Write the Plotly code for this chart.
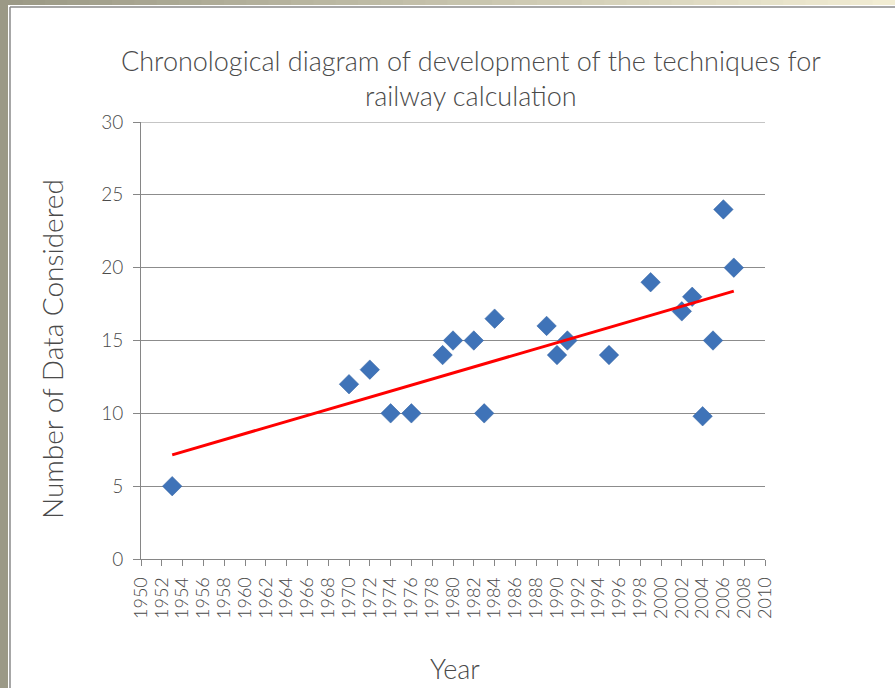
import numpy as np
import plotly.graph_objects as go

# Publication years and number of data considered by each technique
years = [1953, 1970, 1972, 1974, 1976, 1979, 1980, 1982, 1983, 1984,
         1989, 1990, 1991, 1995, 1999, 2002, 2003, 2004, 2005, 2006, 2007]
data_considered = [5, 12, 13, 10, 10, 14, 15, 15, 10, 16.5,
                   16, 14, 15, 14, 19, 17, 18, 9.8, 15, 24, 20]

x_ticks = list(range(1950, 2011, 2))
y_ticks = [0, 5, 10, 15, 20, 25, 30]

title_text = "Chronological diagram of development of the techniques for<br>railway calculation"
x_title = "Year"
y_title = "Number of Data Considered"

FONT = "Lato"
TXT = "#4a4a4a"
W, H = 895, 688
L, R, T, B = 141, 130, 122, 129
PW, PH = W - L - R, H - T - B


def px(x):
    return (x - L) / PW


def py(y):
    return (H - B - y) / PH


# Linear trend line fitted by least squares
slope, intercept = np.polyfit(years, data_considered, 1)
trend_x = [min(years), max(years)]
trend_y = [slope * v + intercept for v in trend_x]

fig = go.Figure()
fig.add_trace(go.Scatter(
    x=years, y=data_considered, mode="markers",
    marker=dict(symbol="diamond", size=15, color="#3f73b8",
                line=dict(color="#2f5f9e", width=0.5)),
    showlegend=False, hoverinfo="x+y",
))
fig.add_trace(go.Scatter(
    x=trend_x, y=trend_y, mode="lines",
    line=dict(color="#ff0000", width=3),
    showlegend=False, hoverinfo="skip",
))

# Slide frame: grey band on the left and a grey-to-beige band across the top
shapes = [dict(type="rect", xref="paper", yref="paper",
               x0=px(0), x1=px(8), y0=py(H), y1=py(0),
               fillcolor="#9b9986", line=dict(width=0), layer="below")]
c0 = np.array([0x9b, 0x99, 0x86])
c1 = np.array([0xf2, 0xed, 0xd3])
n = 40
for i in range(n):
    t = i / (n - 1)
    c = (c0 * (1 - t) + c1 * t).astype(int)
    shapes.append(dict(type="rect", xref="paper", yref="paper",
                       x0=px(W * i / n), x1=px(W * (i + 1) / n + 1),
                       y0=py(5), y1=py(0),
                       fillcolor="rgb(%d,%d,%d)" % tuple(c),
                       line=dict(width=0), layer="below"))
shapes.append(dict(type="line", xref="paper", yref="paper",
                   x0=px(10), x1=px(10), y0=py(H), y1=py(7),
                   line=dict(color="#8a8a8a", width=1.5)))
shapes.append(dict(type="line", xref="paper", yref="paper",
                   x0=px(10), x1=px(W), y0=py(7), y1=py(7),
                   line=dict(color="#8a8a8a", width=1.5)))
# Gridline at the top of the value range
shapes.append(dict(type="line", xref="paper", yref="y",
                   x0=0, x1=1, y0=y_ticks[-1], y1=y_ticks[-1],
                   line=dict(color="#8c8c8c", width=1), layer="below"))

fig.update_layout(
    width=W, height=H,
    margin=dict(l=L, r=R, t=T, b=B, pad=0),
    paper_bgcolor="white", plot_bgcolor="white",
    font=dict(family=FONT, color=TXT),
    shapes=shapes,
    annotations=[
        dict(text=title_text, xref="paper", yref="paper",
             x=px(471), y=py(78), xanchor="center", yanchor="middle",
             showarrow=False,
             font=dict(family=FONT, size=27, color=TXT, weight=300)),
        dict(text=y_title, xref="paper", yref="paper",
             x=px(52), y=py(349), xanchor="center", yanchor="middle",
             textangle=-90, showarrow=False,
             font=dict(family=FONT, size=28, color=TXT, weight=300)),
        dict(text=x_title, xref="paper", yref="paper",
             x=px(455), y=py(668), xanchor="center", yanchor="middle",
             showarrow=False,
             font=dict(family=FONT, size=27, color=TXT, weight=300)),
    ],
    xaxis=dict(
        range=[1950, 2010], tickmode="array", tickvals=x_ticks,
        ticktext=[str(v) for v in x_ticks], tickangle=-90,
        ticks="outside", ticklen=6, tickcolor="#868686",
        showline=True, linecolor="#868686", linewidth=1,
        showgrid=False, zeroline=False, ticklabelstandoff=4,
        tickfont=dict(family=FONT, size=18, color=TXT, weight=300),
    ),
    yaxis=dict(
        range=[0, 30], tickmode="array", tickvals=y_ticks,
        ticks="outside", ticklen=7, tickcolor="#868686",
        showline=True, linecolor="#868686", linewidth=1,
        showgrid=True, gridcolor="#8c8c8c", gridwidth=1, zeroline=False,
        ticklabelstandoff=6,
        tickfont=dict(family=FONT, size=19, color=TXT, weight=300),
    ),
)

fig.write_html("out.html")
